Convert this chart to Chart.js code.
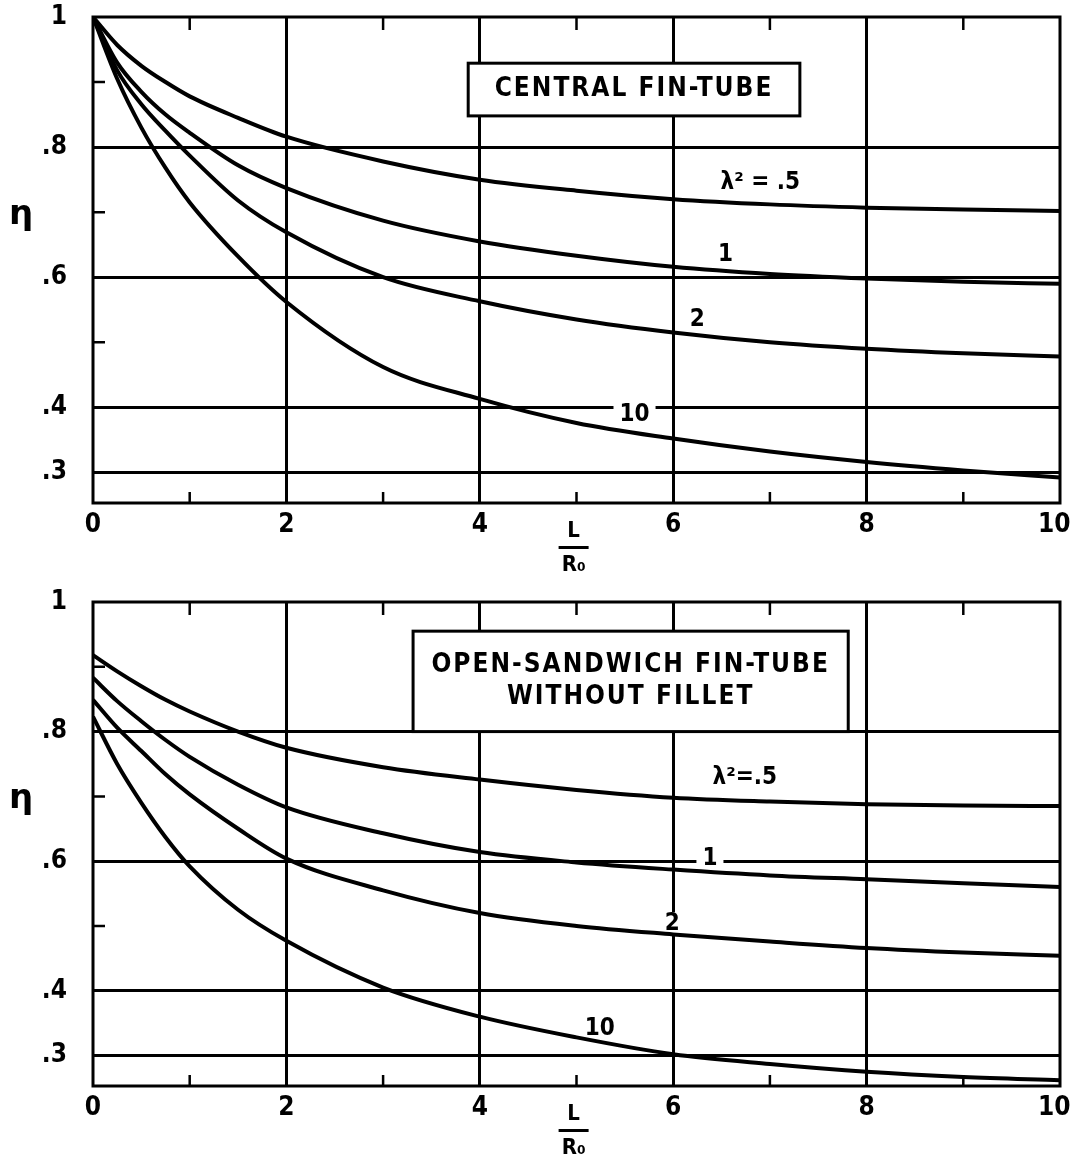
<!DOCTYPE html>
<html>
<head>
<meta charset="utf-8">
<script src="https://cdn.jsdelivr.net/npm/chart.js@4.4.0/dist/chart.umd.min.js"></script>
<style>
  body { margin: 0; background: #fff; }
  .panel { position: absolute; left: 0; width: 1073px; height: 583px; }
</style>
</head>
<body>
<div class="panel" style="top:0"><canvas id="central" width="1073" height="583"></canvas></div>
<div class="panel" style="top:583px"><canvas id="sandwich" width="1073" height="583"></canvas></div>
<script>
const ratio = [0, 0.25, 0.5, 0.75, 1, 1.5, 2, 3, 4, 5, 6, 7, 8, 9, 10];

const centralHalf = [1, 0.957, 0.925, 0.9, 0.878, 0.845, 0.816, 0.778, 0.75, 0.733, 0.72, 0.712, 0.707, 0.704, 0.702];
const centralOne = [1, 0.93, 0.885, 0.85, 0.822, 0.772, 0.737, 0.687, 0.655, 0.633, 0.616, 0.605, 0.598, 0.593, 0.59];
const centralTwo = [1, 0.918, 0.866, 0.825, 0.787, 0.718, 0.669, 0.6, 0.563, 0.535, 0.515, 0.5, 0.49, 0.483, 0.478];
const centralTen = [1, 0.905, 0.83, 0.768, 0.715, 0.632, 0.562, 0.462, 0.413, 0.376, 0.352, 0.332, 0.316, 0.303, 0.292];

const sandwichHalf = [0.918, 0.893, 0.87, 0.849, 0.831, 0.8, 0.775, 0.745, 0.726, 0.71, 0.698, 0.692, 0.688, 0.686, 0.685];
const sandwichOne = [0.883, 0.847, 0.816, 0.787, 0.761, 0.718, 0.683, 0.643, 0.614, 0.598, 0.587, 0.578, 0.572, 0.566, 0.56];
const sandwichTwo = [0.849, 0.806, 0.77, 0.734, 0.703, 0.65, 0.604, 0.555, 0.52, 0.5, 0.487, 0.476, 0.466, 0.459, 0.454];
const sandwichTen = [0.823, 0.75, 0.69, 0.637, 0.592, 0.525, 0.477, 0.405, 0.36, 0.328, 0.302, 0.287, 0.275, 0.267, 0.262];

const etaTicks = [0.3, 0.4, 0.6, 0.8, 1];
const etaTickText = [".3", ".4", ".6", ".8", "1"];
const etaMinor = [0.5, 0.7, 0.9];
const ratioMinor = [1, 3, 5, 7, 9];

const centralLabels = ["λ² = .5", "1", "2", "10"];
const sandwichLabels = ["λ²=.5", "1", "2", "10"];
const centralTitle = ["CENTRAL FIN-TUBE"];
const sandwichTitle = ["OPEN-SANDWICH FIN-TUBE", "WITHOUT FILLET"];

const face = "'DejaVu Sans Condensed', 'DejaVu Sans', sans-serif";

const decor = {
  id: "decor",
  beforeDatasetsDraw(chart, args, opts) {
    const { ctx, chartArea: a, scales: { x, y } } = chart;
    ctx.save();
    ctx.strokeStyle = "#000";
    ctx.lineWidth = 2.5;
    ctx.beginPath();
    etaMinor.forEach((v) => {
      const py = y.getPixelForValue(v);
      ctx.moveTo(a.left, py);
      ctx.lineTo(a.left + 12, py);
    });
    ratioMinor.forEach((v) => {
      const px = x.getPixelForValue(v);
      ctx.moveTo(px, a.bottom);
      ctx.lineTo(px, a.bottom - 11);
      ctx.moveTo(px, a.top);
      ctx.lineTo(px, a.top + 13);
    });
    ctx.stroke();

    // title box sits over the grid
    const b = opts.box;
    const bx0 = x.getPixelForValue(b.x0);
    const bx1 = x.getPixelForValue(b.x1);
    const by0 = y.getPixelForValue(b.y0);
    const by1 = y.getPixelForValue(b.y1);
    ctx.fillStyle = "#fff";
    ctx.fillRect(bx0, by0, bx1 - bx0, by1 - by0);
    ctx.lineWidth = 3;
    ctx.strokeRect(bx0, by0, bx1 - bx0, by1 - by0);
    ctx.fillStyle = "#000";
    ctx.font = "bold 26px " + face;
    ctx.letterSpacing = "2px";
    ctx.textAlign = "center";
    ctx.textBaseline = "middle";
    const mid = (by0 + by1) / 2;
    b.lines.forEach((t, i) => {
      ctx.fillText(t, (bx0 + bx1) / 2, mid + (i - (b.lines.length - 1) / 2) * 32);
    });
    ctx.letterSpacing = "0px";

    ctx.font = "bold 24px " + face;
    opts.labels.forEach((l, i) => {
      const px = x.getPixelForValue(l[0]);
      const py = y.getPixelForValue(l[1]);
      const w = ctx.measureText(opts.texts[i]).width;
      ctx.fillStyle = "#fff";
      ctx.fillRect(px - w / 2 - 6, py - 12, w + 12, 24);
      ctx.fillStyle = "#000";
      ctx.fillText(opts.texts[i], px, py);
    });
    ctx.restore();
  },
  afterDraw(chart) {
    const { ctx, chartArea: a, scales: { x, y } } = chart;
    ctx.save();
    ctx.strokeStyle = "#000";
    ctx.lineWidth = 3;
    ctx.strokeRect(a.left, a.top, a.right - a.left, a.bottom - a.top);
    ctx.fillStyle = "#000";
    ctx.textAlign = "center";
    ctx.textBaseline = "middle";
    ctx.font = "bold 34px 'DejaVu Sans', sans-serif";
    ctx.fillText("η", 21, y.getPixelForValue(0.695));
    const cx = x.getPixelForValue(4.97);
    ctx.font = "bold 22px " + face;
    ctx.fillText("L", cx, a.bottom + 28);
    ctx.fillRect(cx - 15, a.bottom + 43, 30, 3);
    ctx.fillText("R₀", cx, a.bottom + 62);
    ctx.restore();
  },
};

const makeChart = (id, series, top, box, labels, texts) => {
  const ctx = document.getElementById(id).getContext("2d");
  return new Chart(ctx, {
    type: "line",
    data: {
      datasets: series.map((s) => ({
        data: ratio.map((r, i) => ({ x: r, y: s[i] })),
        borderColor: "#000",
        borderWidth: 4,
        pointRadius: 0,
        fill: false,
        cubicInterpolationMode: "monotone",
      })),
    },
    options: {
      responsive: false,
      animation: false,
      layout: { padding: { top: top, right: 13, left: 0, bottom: 0 } },
      plugins: {
        legend: { display: false },
        tooltip: { enabled: false },
        decor: { box: box, labels: labels, texts: texts },
      },
      scales: {
        x: {
          type: "linear",
          min: 0,
          max: 10,
          afterFit: (scale) => {
            scale.height = 80;
            scale.paddingLeft = 0;
            scale.paddingRight = 0;
          },
          border: { display: false },
          grid: {
            drawTicks: false,
            lineWidth: 3,
            color: (c) => (c.tick && (c.tick.value === 0 || c.tick.value === 10) ? "rgba(0,0,0,0)" : "#000"),
          },
          ticks: {
            stepSize: 2,
            padding: 7,
            maxRotation: 0,
            autoSkip: false,
            color: "#000",
            font: { family: face, size: 26, weight: "bold" },
            // last label sits a little left of its tick, as on the original
            callback: (v) => (v === 10 ? "10\u2002" : v),
          },
        },
        y: {
          min: 0.253,
          max: 1,
          afterFit: (scale) => {
            scale.width = 93;
            scale.paddingTop = 0;
            scale.paddingBottom = 0;
          },
          afterBuildTicks: (scale) => {
            scale.ticks = etaTicks.map((v) => ({ value: v }));
          },
          border: { display: false },
          grid: {
            drawTicks: false,
            lineWidth: 3,
            color: (c) => (c.tick && c.tick.value === 1 ? "rgba(0,0,0,0)" : "#000"),
          },
          ticks: {
            padding: 26,
            color: "#000",
            font: { family: face, size: 26, weight: "bold" },
            callback: (v, i) => etaTickText[i],
          },
        },
      },
    },
    plugins: [decor],
  });
};

makeChart(
  "central",
  [centralHalf, centralOne, centralTwo, centralTen],
  17,
  { x0: 3.88, x1: 7.31, y0: 0.929, y1: 0.848, lines: centralTitle },
  [[6.9, 0.745], [6.54, 0.634], [6.25, 0.534], [5.6, 0.388]],
  centralLabels
);

makeChart(
  "sandwich",
  [sandwichHalf, sandwichOne, sandwichTwo, sandwichTen],
  19,
  { x0: 3.31, x1: 7.81, y0: 0.955, y1: 0.8, lines: sandwichTitle },
  [[6.74, 0.729], [6.38, 0.603], [5.99, 0.503], [5.24, 0.342]],
  sandwichLabels
);
</script>
</body>
</html>
